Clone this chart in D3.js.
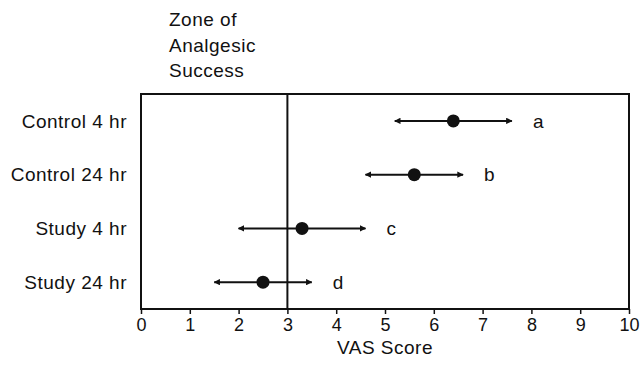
<!DOCTYPE html>
<meta charset="utf-8">
<style>
html, body { margin: 0; padding: 0; background: #fff; }
svg text { font-family: "Liberation Sans", Arial, sans-serif; fill: #111; }
</style>
<div id="chart"></div>
<script src="https://d3js.org/d3.v7.min.js"></script>
<script>

// data
var groups = ["Control 4 hr", "Control 24 hr", "Study 4 hr", "Study 24 hr"];
var means  = [6.4, 5.6, 3.3, 2.5];
var lows   = [5.2, 4.6, 2.0, 1.5];
var highs  = [7.6, 6.6, 4.6, 3.5];
var marks  = ["a", "b", "c", "d"];
var xTicks = [0, 1, 2, 3, 4, 5, 6, 7, 8, 9, 10];
var cutoff = 3;
var zoneLines = ["Zone of", "Analgesic", "Success"];

var width = 641, height = 373;
var margin = {top: 94, right: 12, bottom: 64, left: 141};

var svg = d3.select("#chart").append("svg")
    .attr("width", width)
    .attr("height", height);

var x = d3.scaleLinear().domain([0, 10]).range([margin.left, width - margin.right]);
var y = d3.scalePoint().domain(groups).range([margin.top, height - margin.bottom]).padding(0.5);

// frame
svg.append("rect")
    .attr("x", x(0)).attr("y", margin.top)
    .attr("width", x(10) - x(0)).attr("height", height - margin.bottom - margin.top)
    .attr("fill", "none").attr("stroke", "#111").attr("stroke-width", 2);

// cutoff line
svg.append("line")
    .attr("x1", x(cutoff)).attr("x2", x(cutoff))
    .attr("y1", margin.top).attr("y2", height - margin.bottom)
    .attr("stroke", "#111").attr("stroke-width", 2);

// x axis
var xAxis = svg.append("g")
    .attr("transform", "translate(0," + (height - margin.bottom) + ")")
    .call(d3.axisBottom(x).tickValues(xTicks).tickSize(5).tickPadding(4).tickFormat(d3.format("d")));
xAxis.select(".domain").remove();
xAxis.selectAll(".tick line").attr("stroke", "#111").attr("stroke-width", 1.5);
xAxis.selectAll(".tick text").style("font-size", "18px").attr("fill", "#111");

svg.append("text")
    .attr("x", (x(0) + x(10)) / 2).attr("y", 354)
    .attr("text-anchor", "middle")
    .style("font-size", "19px").style("letter-spacing", "0.5px")
    .text("VAS Score");

// group labels
svg.selectAll(".glabel").data(groups).enter().append("text")
    .attr("class", "glabel")
    .attr("x", 127).attr("y", function(d) { return y(d); })
    .attr("dy", "0.35em")
    .attr("text-anchor", "end")
    .style("font-size", "19px").style("letter-spacing", "0.5px")
    .text(function(d) { return d; });

// zone title
svg.selectAll(".zone").data(zoneLines).enter().append("text")
    .attr("class", "zone")
    .attr("x", 169).attr("y", function(d, i) { return 26 + i * 25.5; })
    .style("font-size", "19px").style("letter-spacing", "0.5px")
    .text(function(d) { return d; });

// arrowheads
var defs = svg.append("defs");
defs.append("marker")
    .attr("id", "arr").attr("viewBox", "0 0 10 10")
    .attr("refX", 9).attr("refY", 5)
    .attr("markerWidth", 3.2).attr("markerHeight", 3.2)
    .attr("orient", "auto-start-reverse")
    .append("path").attr("d", "M0,0L10,5L0,10z").attr("fill", "#111");

var rows = svg.selectAll(".row").data(groups).enter().append("g").attr("class", "row");

rows.append("line")
    .attr("x1", function(d, i) { return x(lows[i]); })
    .attr("x2", function(d, i) { return x(highs[i]); })
    .attr("y1", function(d) { return y(d); })
    .attr("y2", function(d) { return y(d); })
    .attr("stroke", "#111").attr("stroke-width", 2)
    .attr("marker-start", "url(#arr)")
    .attr("marker-end", "url(#arr)");

rows.append("circle")
    .attr("cx", function(d, i) { return x(means[i]); })
    .attr("cy", function(d) { return y(d); })
    .attr("r", 6.5)
    .attr("fill", "#111");

rows.append("text")
    .attr("x", function(d, i) { return x(highs[i]) + 21; })
    .attr("y", function(d) { return y(d); })
    .attr("dy", "0.35em")
    .style("font-size", "19px")
    .text(function(d, i) { return marks[i]; });

</script>
